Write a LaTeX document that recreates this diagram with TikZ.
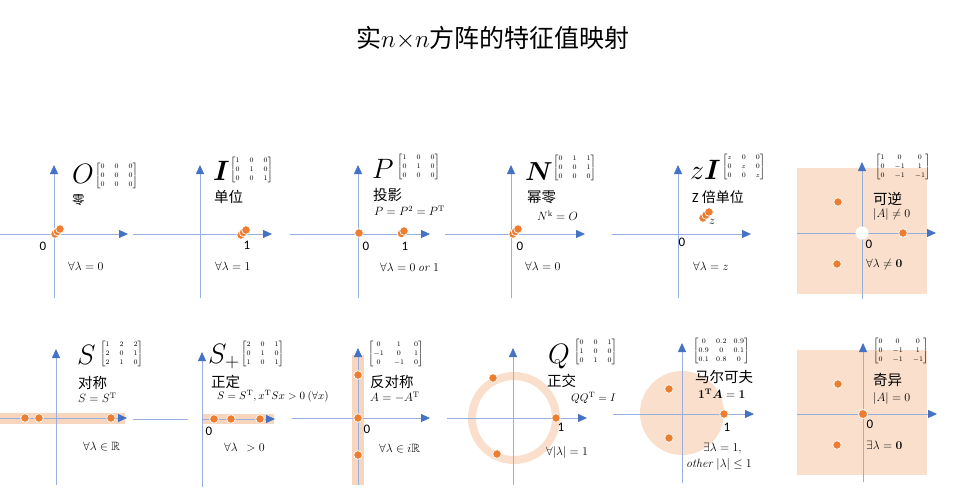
\RequirePackage{fix-cm}
\documentclass[tikz,border=0pt]{standalone}
\usepackage{amsmath,amssymb,bm}
\usepackage[no-math]{fontspec}
\setmainfont{Carlito}
\newfontfamily\cjk{Noto Sans CJK SC}
\usetikzlibrary{arrows.meta}
\definecolor{axb}{RGB}{150,175,222}
\definecolor{axt}{RGB}{68,114,196}
\definecolor{dotc}{RGB}{237,125,49}
\definecolor{peach}{RGB}{250,224,204}
\definecolor{band}{RGB}{248,214,190}
\newcommand\smat[2][5pt]{{\fontsize{7}{9}\selectfont$\setlength\arraycolsep{#1}\left[\begin{array}{@{}ccc@{}}#2\end{array}\right]$}}
\tikzset{
 axis/.style={draw=axb, line width=0.8pt, -{Triangle[length=9pt,width=8pt,color=axt]}},
 axline/.style={draw=axb, line width=0.8pt},
 pt/.style={circle, fill=dotc, draw=white, line width=0.7pt, inner sep=0pt, minimum size=8.5pt},
 big/.style={font=\fontsize{28}{32}\selectfont, inner sep=0pt, anchor=base west},
 zh/.style={font=\fontsize{14.5}{17}\selectfont\cjk, inner sep=0pt, anchor=west},
 fml/.style={font=\fontsize{12}{14}\selectfont, inner sep=0pt, anchor=west},
 num/.style={font=\fontsize{13}{15}\selectfont, inner sep=0pt},
 mat/.style={inner sep=0pt, anchor=north west},
}
\begin{document}
\begin{tikzpicture}[x=1pt,y=-1pt]
\useasboundingbox (0,0) rectangle (968,493);
% title
\node[font=\fontsize{25}{30}\selectfont\cjk] (title) at (493,38) {实$n{\times}n$方阵的特征值映射};

% ---------- panel 1: O ----------
\coordinate (h1a) at (0,234); \coordinate (h1b) at (128,234);
\coordinate (v1a) at (54,298); \coordinate (v1b) at (54,165);
\draw[axis] (h1a) -- (h1b); \draw[axis] (v1a) -- (v1b);
\node[pt] (d1a) at (55,234) {}; \node[pt] (d1b) at (57.5,231.5) {}; \node[pt] (d1c) at (60,229) {};
\node[num] (z1) at (43,246) {0};
\node[big] (L1) at (72,183) {$O$};
\node[mat] (M1) at (95,162) {\smat{0&0&0\\0&0&0\\0&0&0}};
\node[zh,font=\fontsize{12.5}{15}\selectfont\cjk] (C1) at (72,200) {零};
\node[fml] (F1) at (68,266) {$\forall\lambda=0$};

% ---------- panel 2: I ----------
\coordinate (h2a) at (133,234); \coordinate (h2b) at (272,234);
\coordinate (v2a) at (200,298); \coordinate (v2b) at (200,165);
\draw[axis] (h2a) -- (h2b); \draw[axis] (v2a) -- (v2b);
\node[pt] (d2a) at (241,235) {}; \node[pt] (d2b) at (243.5,232.5) {}; \node[pt] (d2c) at (246,230) {};
\node[num] (o2) at (247,245) {1};
\node[big] (L2) at (213,180) {$\bm{I}$};
\node[mat] (M2) at (230,156) {\smat{1&0&0\\0&1&0\\0&0&1}};
\node[zh] (C2) at (214,197) {单位};
\node[fml] (F2) at (215,266) {$\forall\lambda=1$};

% ---------- panel 3: P ----------
\coordinate (h3a) at (290,234); \coordinate (h3b) at (430,234);
\coordinate (v3a) at (358,298); \coordinate (v3b) at (358,165);
\draw[axis] (h3a) -- (h3b); \draw[axis] (v3a) -- (v3b);
\node[pt] (d3a) at (359,233) {};
\node[pt] (d3b) at (401.5,233.5) {}; \node[pt] (d3c) at (404,231) {};
\node[num] (z3) at (366,246) {0};
\node[num] (o3) at (405,246) {1};
\node[big] (L3) at (372,178) {$P$};
\node[mat] (M3) at (397,153) {\smat{1&0&0\\0&1&0\\0&0&0}};
\node[zh] (C3) at (373,195) {投影};
\node[fml] (F3) at (374,211) {$P=P^2=P^{\mathrm{T}}$};
\node[fml] (G3) at (380,267) {$\forall\lambda=0\ \mathit{or}\ 1$};

% ---------- panel 4: N ----------
\coordinate (h4a) at (445,234); \coordinate (h4b) at (585,234);
\coordinate (v4a) at (511,298); \coordinate (v4b) at (511,165);
\draw[axis] (h4a) -- (h4b); \draw[axis] (v4a) -- (v4b);
\node[pt] (d4a) at (513,234) {}; \node[pt] (d4b) at (515.5,231.5) {}; \node[pt] (d4c) at (518,229) {};
\node[num] (z4) at (520,246) {0};
\node[big,font=\fontsize{26}{30}\selectfont] (L4) at (525,180) {$\bm{N}$};
\node[mat] (M4) at (553,154) {\smat{0&1&1\\0&0&1\\0&0&0}};
\node[zh] (C4) at (527,197) {幂零};
\node[fml] (F4) at (537,216) {$N^{\mathrm{k}}=O$};
\node[fml] (G4) at (525,266) {$\forall\lambda=0$};

% ---------- panel 5: zI ----------
\coordinate (h5a) at (612,234); \coordinate (h5b) at (751,234);
\coordinate (v5a) at (678,298); \coordinate (v5b) at (678,165);
\draw[axis] (h5a) -- (h5b); \draw[axis] (v5a) -- (v5b);
\node[pt] (d5a) at (703,218) {}; \node[pt] (d5b) at (706,215) {}; \node[pt] (d5c) at (709,212) {};
\node[fml] (zl5) at (709,222) {$z$};
\node[num] (z5) at (682,242) {0};
\node[big] (L5) at (690,179) {$z\bm{I}$};
\node[mat] (M5) at (722,153) {\smat{z&0&0\\0&z&0\\0&0&z}};
\node[zh] (C5) at (692,197) {\fontsize{14}{17}\selectfont\rmfamily Z {\cjk 倍单位}};
\node[fml] (F5) at (693,266) {$\forall\lambda=z$};

% ---------- panel 6: invertible ----------
\fill[peach] (797,168) rectangle (927,294);
\coordinate (h6a) at (797,233); \coordinate (h6b) at (936,233);
\coordinate (v6a) at (862,299); \coordinate (v6b) at (862,162);
\draw[axis] (h6a) -- (h6b); \draw[axis] (v6a) -- (v6b);
\node[circle, fill=white, inner sep=0pt, minimum size=13pt] (hole6) at (862,233) {};
\node[pt] (d6a) at (838,202) {}; \node[pt] (d6b) at (903,233) {}; \node[pt] (d6c) at (837,264) {};
\node[num] (z6) at (869,244) {0};
\node[mat] (M6) at (875,153) {\smat{1&0&0\\0&-1&1\\0&-1&-1}};
\node[zh] (C6) at (873,199) {可逆};
\node[fml] (F6) at (873,214) {$|A|\neq0$};
\node[fml] (G6) at (866,264) {$\forall\lambda\neq\mathbf{0}$};

% ---------- panel 7: symmetric ----------
\fill[band] (0,412.5) rectangle (125,423.5);
\coordinate (h7a) at (0,418); \coordinate (h7b) at (127,418);
\coordinate (v7a) at (56,485); \coordinate (v7b) at (56,349);
\draw[axis] (h7a) -- (h7b); \draw[axis] (v7a) -- (v7b);
\node[pt] (d7a) at (25,418) {}; \node[pt] (d7b) at (39,418) {}; \node[pt] (d7c) at (111,418) {};
\node[big] (L7) at (77,364) {$S$};
\node[mat] (M7) at (100,340) {\smat{1&2&2\\2&0&1\\2&1&0}};
\node[zh] (C7) at (78,383) {对称};
\node[fml] (F7) at (78,398) {$S=S^{\mathrm{T}}$};
\node[fml] (G7) at (83,447) {$\forall\lambda\in\mathbb{R}$};

% ---------- panel 8: positive definite ----------
\coordinate (h8a) at (133,419); \coordinate (h8b) at (188,419);
\draw[axline] (h8a) -- (h8b);
\fill[band] (203,414) rectangle (274,423.5);
\coordinate (h8c) at (203,419); \coordinate (h8d) at (275,419);
\coordinate (v8a) at (202,487); \coordinate (v8b) at (202,352);
\draw[axis] (h8c) -- (h8d); \draw[axis] (v8a) -- (v8b);
\node[pt] (d8a) at (214,419) {}; \node[pt] (d8b) at (231,419) {}; \node[pt] (d8c) at (260,419) {};
\node[num] (z8) at (209,431) {0};
\node[big] (L8) at (208,363) {$S_{+}$};
\node[mat] (M8) at (241,340) {\smat{2&0&1\\0&1&0\\1&0&1}};
\node[zh] (C8) at (211,382) {正定};
\node[fml,font=\fontsize{11}{13}\selectfont] (F8) at (217,396) {$S=S^{\mathrm{T}},x^{\mathrm{T}}Sx>0\ (\forall x)$};
\node[fml] (G8) at (224,447) {$\forall\lambda\ \ >0$};

% ---------- panel 9: antisymmetric ----------
\fill[band] (352,355) rectangle (363.5,485);
\coordinate (h9a) at (292,418); \coordinate (h9b) at (430,418);
\coordinate (v9a) at (358,485); \coordinate (v9b) at (358,348);
\draw[axis] (h9a) -- (h9b); \draw[axis] (v9a) -- (v9b);
\node[pt] (d9a) at (358,375) {}; \node[pt] (d9b) at (358,418) {}; \node[pt] (d9c) at (358,455) {};
\node[num] (z9) at (367,429) {0};
\node[mat] (M9) at (368,340) {\smat{0&1&0\\-1&0&1\\0&-1&0}};
\node[zh] (C9) at (370,382) {反对称};
\node[fml] (F9) at (370,397) {$A=-A^{\mathrm{T}}$};
\node[fml] (G9) at (379,449) {$\forall\lambda\in i\mathbb{R}$};

% ---------- panel 10: orthogonal ----------
\draw[peach, line width=8pt] (514,418) circle[radius=42];
\coordinate (h10a) at (447,418); \coordinate (h10b) at (587,418);
\coordinate (v10a) at (513,485); \coordinate (v10b) at (513,348);
\draw[axis] (h10a) -- (h10b); \draw[axis] (v10a) -- (v10b);
\node[pt] (d10a) at (556,418) {}; \node[pt] (d10b) at (493,378) {}; \node[pt] (d10c) at (497,454) {};
\node[num] (o10) at (561,427) {1};
\node[big] (L10) at (548,363) {$Q$};
\node[mat] (M10) at (574,338) {\smat{0&0&1\\1&0&0\\0&1&0}};
\node[zh] (C10) at (547,381) {正交};
\node[fml,font=\fontsize{11}{13}\selectfont] (F10) at (571,398) {$QQ^{\mathrm{T}}=I$};
\node[fml] (G10) at (546,452) {$\forall|\lambda|=1$};

% ---------- panel 11: Markov ----------
\fill[peach] (682,413) circle[radius=42];
\coordinate (h11a) at (613,414); \coordinate (h11b) at (754,414);
\coordinate (v11a) at (682,483); \coordinate (v11b) at (682,343);
\draw[axis] (h11a) -- (h11b); \draw[axis] (v11a) -- (v11b);
\node[pt] (d11a) at (724,414) {}; \node[pt] (d11b) at (669,389) {}; \node[pt] (d11c) at (669,438) {};
\node[num] (o11) at (727,427) {1};
\node[mat] (M11) at (693,337) {\smat[3.6pt]{0&0.2&0.9\\0.9&0&0.1\\0.1&0.8&0}};
\node[zh] (C11) at (695,377) {马尔可夫};
\node[fml] (F11) at (698,394) {$\mathbf{1}^{\mathbf{T}}\bm{A}=\mathbf{1}$};
\node[fml] (G11) at (703,448) {$\exists\lambda=1,$};
\node[fml] (H11) at (686,464) {$\mathit{other}\ |\lambda|\leq1$};

% ---------- panel 12: singular ----------
\fill[peach] (797,350) rectangle (927,475);
\coordinate (h12a) at (797,414); \coordinate (h12b) at (937,414);
\coordinate (v12a) at (863,482); \coordinate (v12b) at (863,343);
\draw[axis] (h12a) -- (h12b); \draw[axis] (v12a) -- (v12b);
\node[pt,minimum size=9pt] (d12a) at (863,414) {}; \node[pt] (d12b) at (838,384) {}; \node[pt] (d12c) at (837,445) {};
\node[num] (z12) at (870,424) {0};
\node[mat] (M12) at (873,337) {\smat{0&0&0\\0&-1&1\\0&-1&-1}};
\node[zh] (C12) at (873,380) {奇异};
\node[fml] (F12) at (873,398) {$|A|=0$};
\node[fml] (G12) at (866,445) {$\exists\lambda=\mathbf{0}$};
\end{tikzpicture}
\end{document}
